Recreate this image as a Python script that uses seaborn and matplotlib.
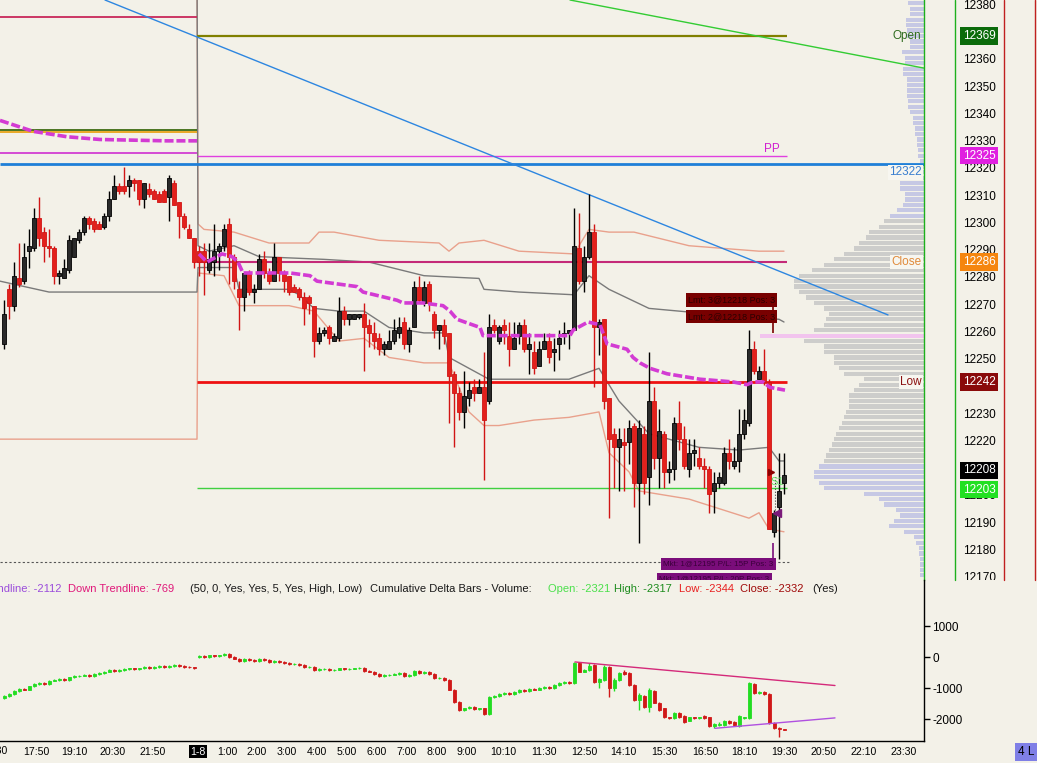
import numpy as np
import seaborn as sns
import matplotlib.pyplot as plt
from matplotlib.lines import Line2D
from matplotlib.transforms import Bbox, TransformedBbox, blended_transform_factory

# ---- 10-minute price bars (OHLC) ----
bar_open = [12256, 12276, 12270, 12280, 12279, 12290, 12291, 12302, 12297, 12292,
            12291, 12281, 12280, 12283, 12288, 12294, 12297, 12302, 12301, 12300,
            12299, 12303, 12309, 12314, 12314, 12314, 12316, 12316, 12309, 12313,
            12312, 12311, 12312, 12310, 12315, 12308, 12303, 12298, 12295, 12290,
            12290, 12283, 12286, 12290, 12292, 12300, 12288, 12276, 12273, 12282,
            12275, 12276, 12287, 12282, 12279, 12288, 12282, 12281, 12277, 12276,
            12273, 12273, 12270, 12257, 12260, 12262, 12257, 12258, 12268, 12265,
            12265, 12266, 12267, 12263, 12260, 12258, 12254, 12254, 12257, 12260,
            12264, 12256, 12262, 12277, 12271, 12278, 12267, 12261, 12263, 12260,
            12245, 12238, 12231, 12236, 12240, 12238, 12240, 12235, 12263, 12257,
            12263, 12259, 12254, 12259, 12263, 12254, 12253, 12248, 12254, 12257,
            12253, 12256, 12259, 12260, 12261, 12291, 12279, 12288, 12297, 12262,
            12265, 12236, 12223, 12218, 12220, 12220, 12226, 12205, 12223, 12207,
            12235, 12214, 12223, 12209, 12210, 12227, 12221, 12210, 12216, 12214,
            12211, 12210, 12202, 12205, 12205, 12216, 12211, 12213, 12223, 12227,
            12254, 12243, 12246, 12242, 12187, 12196, 12205]
bar_high = [12272, 12278, 12286, 12293, 12293, 12298, 12306, 12310, 12299, 12298,
            12292, 12283, 12287, 12296, 12295, 12298, 12303, 12303, 12302, 12301,
            12304, 12312, 12318, 12315, 12321, 12318, 12317, 12316, 12315, 12315,
            12313, 12312, 12313, 12318, 12316, 12308, 12304, 12300, 12295, 12292,
            12293, 12293, 12300, 12293, 12300, 12302, 12289, 12279, 12282, 12283,
            12278, 12289, 12290, 12284, 12293, 12288, 12283, 12281, 12278, 12277,
            12275, 12274, 12270, 12262, 12262, 12263, 12260, 12273, 12270, 12267,
            12267, 12267, 12271, 12265, 12264, 12260, 12257, 12261, 12265, 12266,
            12266, 12262, 12279, 12281, 12279, 12279, 12268, 12263, 12265, 12260,
            12246, 12240, 12246, 12242, 12243, 12243, 12253, 12267, 12265, 12263,
            12265, 12264, 12264, 12264, 12265, 12260, 12257, 12257, 12260, 12260,
            12258, 12261, 12264, 12261, 12306, 12304, 12292, 12311, 12300, 12265,
            12265, 12236, 12225, 12225, 12225, 12228, 12227, 12228, 12226, 12253,
            12240, 12232, 12224, 12213, 12229, 12235, 12226, 12221, 12221, 12218,
            12214, 12211, 12209, 12209, 12218, 12221, 12218, 12232, 12232, 12261,
            12257, 12248, 12254, 12243, 12195, 12216, 12216]
bar_low = [12254, 12265, 12268, 12277, 12278, 12284, 12290, 12292, 12286, 12288,
           12278, 12278, 12280, 12282, 12288, 12293, 12296, 12298, 12297, 12298,
           12298, 12301, 12309, 12311, 12311, 12310, 12312, 12307, 12306, 12310,
           12309, 12308, 12308, 12301, 12307, 12295, 12298, 12295, 12284, 12281,
           12274, 12282, 12281, 12283, 12290, 12278, 12276, 12261, 12268, 12274,
           12271, 12276, 12280, 12278, 12279, 12279, 12275, 12274, 12275, 12272,
           12263, 12267, 12251, 12256, 12259, 12256, 12257, 12257, 12263, 12263,
           12265, 12265, 12246, 12255, 12254, 12252, 12252, 12254, 12256, 12258,
           12254, 12253, 12262, 12271, 12270, 12268, 12258, 12254, 12256, 12227,
           12218, 12228, 12225, 12233, 12235, 12238, 12206, 12234, 12260, 12256,
           12256, 12248, 12254, 12256, 12253, 12245, 12245, 12248, 12254, 12249,
           12246, 12250, 12256, 12254, 12261, 12278, 12275, 12287, 12240, 12252,
           12232, 12192, 12203, 12202, 12202, 12212, 12196, 12183, 12201, 12197,
           12210, 12203, 12203, 12205, 12206, 12217, 12210, 12207, 12211, 12210,
           12203, 12194, 12194, 12203, 12204, 12210, 12210, 12209, 12221, 12226,
           12245, 12243, 12241, 12188, 12185, 12177, 12201]
bar_close = [12267, 12270, 12281, 12278, 12288, 12292, 12302, 12295, 12292, 12291,
             12281, 12282, 12284, 12294, 12295, 12297, 12302, 12300, 12298, 12298,
             12303, 12309, 12314, 12312, 12312, 12316, 12315, 12309, 12315, 12311,
             12309, 12308, 12308, 12317, 12307, 12303, 12299, 12295, 12286, 12286,
             12286, 12287, 12290, 12292, 12298, 12288, 12279, 12273, 12282, 12275,
             12276, 12287, 12282, 12279, 12288, 12282, 12279, 12275, 12275, 12273,
             12269, 12271, 12257, 12260, 12261, 12258, 12259, 12268, 12265, 12267,
             12267, 12267, 12262, 12260, 12257, 12254, 12256, 12257, 12261, 12262,
             12256, 12261, 12277, 12272, 12277, 12271, 12261, 12263, 12259, 12244,
             12238, 12231, 12237, 12239, 12238, 12240, 12228, 12262, 12261, 12262,
             12261, 12254, 12258, 12263, 12254, 12256, 12247, 12254, 12257, 12251,
             12254, 12258, 12260, 12261, 12292, 12279, 12288, 12297, 12262, 12264,
             12235, 12221, 12218, 12221, 12219, 12225, 12205, 12225, 12205, 12235,
             12214, 12224, 12209, 12210, 12227, 12221, 12211, 12216, 12217, 12211,
             12210, 12201, 12205, 12207, 12216, 12213, 12213, 12223, 12228, 12254,
             12246, 12246, 12242, 12188, 12194, 12202, 12208]

# ---- cumulative delta bars ----
delta_open = [-1310, -1250, -1180, -1090, -1020, -1050, -930, -860, -830, -860,
              -760, -730, -700, -730, -640, -600, -590, -570, -600, -540,
              -510, -470, -410, -440, -410, -380, -350, -380, -350, -310,
              -350, -310, -280, -310, -280, -250, -280, -310, -320, 10,
              40, 10, 70, 40, 70, 110, 10, -50, -120, -50,
              -90, -120, -50, -90, -150, -120, -150, -180, -220, -200,
              -250, -310, -300, -410, -380, -370, -410, -400, -350, -380,
              -370, -350, -340, -440, -470, -540, -600, -570, -560, -540,
              -510, -600, -570, -440, -510, -470, -540, -670, -660, -730,
              -1050, -1440, -1700, -1640, -1600, -1670, -1640, -1830, -1280, -1250,
              -1180, -1150, -1180, -1120, -1050, -1090, -1020, -1050, -990, -960,
              -990, -890, -830, -800, -830, -180, -470, -410, -250, -800,
              -730, -310, -990, -730, -470, -510, -890, -1380, -1250, -1600,
              -1090, -1470, -1640, -1930, -1960, -1800, -1890, -2050, -1930, -1960,
              -1890, -1930, -2220, -2180, -2180, -2050, -2090, -2220, -1960, -1960,
              -860, -1150, -1120, -1180, -2120, -2280, -2321]
delta_high = [-1230, -1160, -1070, -1000, -1000, -910, -840, -810, -810, -740,
              -710, -680, -680, -620, -580, -570, -550, -550, -520, -490,
              -450, -390, -390, -390, -360, -330, -330, -330, -290, -290,
              -290, -260, -260, -260, -230, -230, -260, -290, -300, 60,
              60, 90, 90, 90, 130, 130, 30, -30, -30, -30,
              -70, -30, -30, -70, -100, -100, -130, -160, -180, -180,
              -230, -280, -280, -360, -350, -350, -380, -330, -330, -350,
              -330, -320, -320, -420, -450, -520, -550, -540, -520, -490,
              -490, -550, -420, -420, -450, -450, -520, -640, -640, -710,
              -1030, -1420, -1620, -1580, -1580, -1620, -1620, -1260, -1230, -1160,
              -1130, -1130, -1100, -1030, -1030, -1000, -1000, -970, -940, -940,
              -870, -810, -780, -780, -160, -160, -390, -180, -230, -670,
              -250, -290, -670, -490, -410, -490, -870, -1150, -1230, -990,
              -1070, -1450, -1620, -1910, -1780, -1780, -1870, -1910, -1910, -1910,
              -1870, -1910, -2120, -2100, -2030, -2030, -2070, -1870, -1910, -810,
              -840, -1100, -1100, -1160, -2100, -2250, -2317]
delta_low = [-1330, -1270, -1200, -1110, -1070, -1070, -950, -880, -880, -880,
             -780, -750, -750, -750, -660, -620, -610, -620, -620, -560,
             -530, -490, -460, -460, -430, -400, -400, -400, -370, -370,
             -370, -330, -330, -330, -300, -300, -330, -340, -370, -10,
             -10, -10, 20, 20, 50, -10, -70, -140, -140, -110,
             -140, -140, -110, -170, -170, -170, -200, -240, -240, -270,
             -330, -330, -430, -430, -400, -430, -430, -420, -400, -400,
             -390, -370, -460, -490, -560, -620, -620, -590, -580, -560,
             -620, -620, -590, -530, -530, -560, -690, -690, -750, -1070,
             -1460, -1720, -1720, -1660, -1690, -1690, -1850, -1850, -1300, -1270,
             -1200, -1200, -1200, -1140, -1110, -1110, -1070, -1070, -1010, -1010,
             -1010, -910, -850, -850, -850, -490, -490, -430, -820, -990,
             -750, -1280, -1090, -750, -560, -910, -1400, -1700, -1620, -1760,
             -1490, -1720, -1950, -1980, -1980, -1950, -2110, -2070, -1980, -1980,
             -1980, -2240, -2280, -2200, -2200, -2140, -2200, -2240, -1980, -1980,
             -1170, -1170, -1200, -2140, -2300, -2570, -2344]
delta_close = [-1250, -1180, -1090, -1020, -1050, -930, -860, -830, -860, -760,
               -730, -700, -730, -640, -600, -590, -570, -600, -540, -510,
               -470, -410, -440, -410, -380, -350, -380, -350, -310, -350,
               -310, -280, -310, -280, -250, -280, -310, -320, -350, 40,
               10, 70, 40, 70, 110, 10, -50, -120, -50, -90,
               -120, -50, -90, -150, -120, -150, -180, -220, -200, -250,
               -310, -300, -410, -380, -370, -410, -400, -350, -380, -370,
               -350, -340, -440, -470, -540, -600, -570, -560, -540, -510,
               -600, -570, -440, -510, -470, -540, -670, -660, -730, -1050,
               -1440, -1700, -1640, -1600, -1670, -1640, -1830, -1280, -1250, -1180,
               -1150, -1180, -1120, -1050, -1090, -1020, -1050, -990, -960, -990,
               -890, -830, -800, -830, -180, -470, -410, -280, -800, -700,
               -310, -990, -730, -510, -540, -890, -1380, -1220, -1600, -1050,
               -1470, -1700, -1930, -1960, -1800, -1930, -2090, -1930, -1960, -1930,
               -1960, -2220, -2150, -2150, -2050, -2120, -2180, -1890, -1930, -830,
               -1150, -1120, -1180, -2120, -2280, -2310, -2332]

# ---- volume profile (2-point rows) ----
profile_price = [12171, 12173, 12175, 12177, 12179, 12181, 12183, 12185, 12187, 12189,
                 12191, 12193, 12195, 12197, 12199, 12201, 12203, 12205, 12207, 12209,
                 12211, 12213, 12215, 12217, 12219, 12221, 12223, 12225, 12227, 12229,
                 12231, 12233, 12235, 12237, 12239, 12241, 12243, 12245, 12247, 12249,
                 12251, 12253, 12255, 12257, 12259, 12261, 12263, 12265, 12267, 12269,
                 12271, 12273, 12275, 12277, 12279, 12281, 12283, 12285, 12287, 12289,
                 12291, 12293, 12295, 12297, 12299, 12301, 12303, 12305, 12307, 12309,
                 12311, 12313, 12315, 12317, 12319, 12321, 12323, 12325, 12327, 12329,
                 12331, 12333, 12335, 12337, 12339, 12341, 12343, 12345, 12347, 12349,
                 12351, 12353, 12355, 12357, 12359, 12361, 12363, 12365, 12367, 12369,
                 12371, 12373, 12375, 12377, 12379, 12381]
profile_volume = [4, 4, 4, 4, 5, 5, 8, 10, 20, 35,
                  30, 24, 28, 40, 45, 60, 100, 105, 110, 110,
                  105, 100, 98, 95, 92, 90, 88, 85, 82, 80,
                  78, 75, 75, 75, 70, 65, 60, 80, 85, 90,
                  90, 100, 100, 120, 164, 110, 100, 98, 95, 100,
                  110, 118, 125, 130, 130, 125, 112, 100, 90, 80,
                  70, 65, 58, 55, 45, 40, 34, 27, 21, 19,
                  19, 24, 24, 29, 29, 25, 4, 6, 6, 7,
                  7, 9, 9, 11, 11, 14, 16, 16, 17, 17,
                  17, 17, 21, 21, 19, 19, 22, 14, 14, 17,
                  17, 18, 18, 14, 14, 16]
poc_price = 12259
va_low, va_high = 12213, 12301

# ---- study lines (bar index, price) ----
upper_band_x = [38.6, 38.8, 40, 46, 53, 61, 63, 66, 75, 87, 89, 91, 96, 103, 114, 117, 121, 126, 137, 151, 155, 156]
upper_band_y = [12395, 12300, 12298, 12297, 12293, 12293, 12297, 12297, 12294, 12293, 12290, 12293, 12294,
                12290, 12289, 12298, 12297, 12297, 12292, 12290, 12290, 12290]
lower_band_x = [-0.8, 38.6, 38.8, 44, 47, 57, 62, 67, 72, 77, 84, 89, 93, 96, 99, 106, 113, 119, 121, 125,
                127, 137, 149, 151, 153, 156]
lower_band_y = [12221, 12221, 12282, 12281, 12270, 12270, 12268, 12257, 12258, 12251, 12249, 12249, 12231,
                12226, 12226, 12228, 12229, 12231, 12216, 12209, 12202, 12199, 12192, 12194, 12188, 12187]
upper_mid_x = [38.6, 38.8, 41, 46, 51, 64, 73, 84, 95, 96, 103, 114, 117, 121, 129, 147, 155, 156]
upper_mid_y = [12395, 12292, 12290, 12292, 12288, 12287, 12286, 12281, 12280, 12276, 12275, 12274, 12281,
               12276, 12269, 12266, 12265, 12264]
lower_mid_x = [-0.8, 9, 38.6, 38.8, 46, 47, 57, 59, 62, 67, 72, 77, 84, 88, 89, 94, 97, 113, 119, 123, 126,
               129, 139, 147, 153, 155, 156]
lower_mid_y = [12279, 12275, 12275, 12284, 12284, 12276, 12276, 12274, 12269, 12268, 12268, 12262, 12260,
               12260, 12251, 12246, 12243, 12243, 12247, 12235, 12229, 12223, 12218, 12217, 12218, 12213, 12213]
ma_prev_x = [-0.8, 5.8, 12.6, 19.2, 32.6, 38.6]
ma_prev_y = [12338, 12334, 12332, 12331, 12330.5, 12330.5]
ma_x = [39, 40.6, 42.6, 43.6, 45.6, 46.8, 47.8, 57.2, 61.2, 62.6, 70.6, 71.8, 78.6, 79.8, 83.8, 87.8, 89.2,
        90.6, 95.2, 95.8, 103.2, 113.2, 113.8, 116.8, 119.2, 119.8, 120.6, 124.6, 125.8, 127.2, 129.2,
        132.6, 139.2, 145.8, 148.6, 149.8, 151.8, 153.2, 156.2]
ma_y = [12289, 12286, 12288, 12289, 12288, 12286, 12282, 12282, 12281, 12279, 12277, 12275, 12272, 12271,
        12271, 12270, 12268, 12265, 12262, 12259, 12259, 12259, 12261, 12264, 12263, 12260, 12256, 12254,
        12251, 12249, 12247, 12245, 12243, 12242, 12241, 12242, 12242, 12240, 12239]

# trend lines
blue_trend_x, blue_trend_y = [20.2, 176.8], [12382.2, 12266.6]
green_trend_x, green_trend_y = [113.2, 184], [12382.2, 12357.2]
down_trend_x, down_trend_y = [114.2, 166.2], [-150, -910]
up_trend_x, up_trend_y = [142.2, 166.2], [-2290, -1955]

# levels
prev_levels = [12376, 12334.3, 12333.6, 12326]
prev_colors = ["#C8285A", "#3D6B12", "#E8A417", "#D23ED2"]
open_level, pp_level, close_level, low_level, s1_level = 12369, 12325, 12286, 12242, 12203
blue_level = 12322
last_fill = 12176

price_ticks = [12380, 12370, 12360, 12350, 12340, 12330, 12320, 12310, 12300, 12290, 12280,
               12270, 12260, 12250, 12240, 12230, 12220, 12210, 12200, 12190, 12180, 12170]
price_boxes = ["12369", "12325", "12286", "12242", "12208", "12203"]
price_box_y = [12369, 12325, 12286, 12242, 12209.5, 12202.5]
price_box_colors = ["#0B6B0B", "#E020E0", "#F5860F", "#8A0A0A", "#000000", "#22E022"]

time_tick_pos = [6.5, 14, 21.8, 29.7, 38.8, 44.6, 50.6, 56.6, 62.6, 68.6, 74.6, 80.6, 86.6, 92.6,
                 99.8, 108, 116, 123.8, 132, 140.2, 148, 156, 164, 172, 180]
time_tick_text = ["17:50", "19:10", "20:30", "21:50", "1-8", "1:00", "2:00", "3:00", "4:00", "5:00",
                  "6:00", "7:00", "8:00", "9:00", "10:10", "11:30", "12:50", "14:10", "15:30", "16:50",
                  "18:10", "19:30", "20:50", "22:10", "23:30"]
delta_ticks = [1000, 0, -1000, -2000]

BG = "#F3F1E8"
W, H = 1037, 763

sns.set_theme(style="white")
plt.rcParams["font.family"] = ["Liberation Sans", "DejaVu Sans"]
plt.rcParams["font.size"] = 8


def fx(px):
    return px / W


def fy(py):
    return 1 - py / H


def line(axis, xs, ys, color, lw, z=2):
    sns.lineplot(x=xs, y=ys, ax=axis, color=color, linewidth=lw, sort=False,
                 estimator=None, legend=False, zorder=z)


def candles(axis, o, h, l, c, up_col, dn_col, up_edge, dn_edge, width):
    o, h, l, c = map(np.asarray, (o, h, l, c))
    idx = np.arange(len(o))
    up = c >= o
    axis.vlines(idx, l, h, colors=np.where(up, up_edge, dn_edge), lw=1, zorder=4)
    body = np.maximum(np.abs(c - o), (h.max() - l.min()) * 0.0025)
    axis.bar(idx, body, bottom=np.minimum(o, c), width=width, color=np.where(up, up_col, dn_col),
             edgecolor=np.where(up, up_edge, dn_edge), linewidth=0.6, zorder=5)


fig = plt.figure(figsize=(W / 100, H / 100), dpi=100)
fig.patch.set_facecolor(BG)

main_rect = [0, fy(580), fx(924), 580 / H]
ymin, ymax = 12169.3, 12382.2
xmin, xmax = -0.8, 184

# volume profile behind the price pane
ax_vp = fig.add_axes(main_rect)
ax_vp.set_facecolor(BG)
vp_colors = ["#F2C4EE" if p == poc_price else ("#CDCDCB" if va_low <= p <= va_high else "#C6C8E4")
             for p in profile_price]
ax_vp.barh(profile_price, profile_volume, height=1.55, left=0, color=vp_colors, linewidth=0)
ax_vp.set_xlim(924, 0)
ax_vp.set_ylim(ymin, ymax)
ax_vp.axis("off")

ax = fig.add_axes(main_rect)
ax.set_facecolor("none")

# bands and averages
line(ax, upper_band_x, upper_band_y, "#E9A18C", 1)
line(ax, lower_band_x, lower_band_y, "#E9A18C", 1)
line(ax, upper_mid_x, upper_mid_y, "#7A7A7A", 1)
line(ax, lower_mid_x, lower_mid_y, "#7A7A7A", 1)

# levels
for lv, col in zip(prev_levels, prev_colors):
    ax.hlines(lv, xmin, 38.6, color=col, lw=1.3, zorder=2)
ax.hlines(open_level, 38.6, 156.6, color="#808000", lw=1.6, zorder=2)
ax.hlines(pp_level, 38.6, 156.6, color="#E040E0", lw=1, zorder=2)
ax.hlines(blue_level, xmin, xmax, color="#1E7FD8", lw=2, zorder=2)
ax.hlines(close_level, 38.6, 156.6, color="#C42A78", lw=1.5, zorder=2)
ax.hlines(low_level, 38.6, 156.6, color="#EE1111", lw=2, zorder=2)
ax.hlines(s1_level, 38.6, 156.6, color="#40D040", lw=1, zorder=2)
ax.hlines(last_fill, xmin, 157.2, color="#555555", lw=0.8, linestyles=(0, (2, 2)), zorder=2)

ax.plot(blue_trend_x, blue_trend_y, color="#2D86E0", lw=1, zorder=3)
ax.plot(green_trend_x, green_trend_y, color="#33CC33", lw=1, zorder=3)

candles(ax, bar_open, bar_high, bar_low, bar_close, "#2A2A2A", "#E3211C", "#000000", "#D01515", 0.7)

ax.plot(ma_prev_x, ma_prev_y, color="#D33BD3", lw=2.6, dashes=(2.5, 0.8), zorder=6)
ax.plot(ma_x, ma_y, color="#D33BD3", lw=2.6, dashes=(2.5, 0.8), zorder=6)

# order labels
ax.vlines(153.8, 12260, 12273, color="#7A0000", lw=1.2, zorder=7)
ax.text(136.8, 12272.1, "Lmt: 3@12218 Pos: 3", fontsize=6.5, color="#2A0000", va="center",
        bbox=dict(boxstyle="square,pad=0.25", fc="#780000", ec="none"), zorder=8, clip_on=True)
ax.text(136.8, 12266.0, "Lmt: 2@12218 Pos: 3", fontsize=6.5, color="#2A0000", va="center",
        bbox=dict(boxstyle="square,pad=0.25", fc="#780000", ec="none"), zorder=8, clip_on=True)
ax.vlines(153.8, 12173, 12183, color="#7A0D7A", lw=1.2, zorder=7)
ax.text(131.8, 12175.3, "Mkt: 1@12195 P/L: 15P Pos: 3", fontsize=5.8, color="#3A003A", va="center",
        bbox=dict(boxstyle="square,pad=0.3", fc="#7A0D7A", ec="none"), zorder=8, clip_on=True)
ax.text(131.0, 12169.6, "Mkt: 1@12195 P/L: 20P Pos: 3", fontsize=5.8, color="#3A003A", va="center",
        bbox=dict(boxstyle="square,pad=0.3", fc="#7A0D7A", ec="none"), zorder=8, clip_on=True)
ax.vlines(154.2, 12195, 12208, color="#444444", lw=0.8, linestyles=":", zorder=7)
ax.plot([153.4], [12209], marker=">", color="#8B0000", ms=5, zorder=9)
ax.plot([154.6], [12194], marker="<", color="#7A1A7A", ms=6, zorder=9)

# level captions
ax.text(183.4, open_level, "Open", ha="right", va="center", fontsize=8.5, color="#2E6B1E", zorder=8)
ax.text(155.2, 12327.5, "PP", ha="right", va="center", fontsize=8.5, color="#D020D0", zorder=8)
light = dict(boxstyle="square,pad=0.12", fc="#F7F6F0", ec="none")
ax.text(183.6, 12319.0, "12322", ha="right", va="center", fontsize=8.5, color="#3A7FD0", bbox=light, zorder=8)
ax.text(183.6, close_level, "Close", ha="right", va="center", fontsize=8.5, color="#E08A3A", bbox=light, zorder=8)
ax.text(183.6, low_level, "Low", ha="right", va="center", fontsize=8.5, color="#8B1010", bbox=light, zorder=8)
ax.text(154.6, 12205.3, "S1", ha="center", va="center", fontsize=8, color="#66DD66", zorder=8)

ax.set_xlim(xmin, xmax)
ax.set_ylim(ymin, ymax)
ax.set_xticks([])
ax.set_yticks([])
for s in ["left", "top", "bottom"]:
    ax.spines[s].set_visible(False)
ax.spines["right"].set_color("#1DB01D")
ax.spines["right"].set_linewidth(1)

# right price scale
trans = blended_transform_factory(fig.transFigure, ax.transData)
clip = TransformedBbox(Bbox([[fx(924), fy(580)], [1, 1]]), fig.transFigure)
for p in price_ticks:
    t = fig.text(fx(963), p, str(p), transform=trans, ha="left", va="center", fontsize=8.5, color="black")
    t.set_clip_box(clip)
    t.set_clip_on(True)
for s, p, col in zip(price_boxes, price_box_y, price_box_colors):
    fig.text(fx(963), p, s, transform=trans, ha="left", va="center", fontsize=8.5, color="white",
             bbox=dict(boxstyle="square,pad=0.22", fc=col, ec="none"), zorder=5)

for xpix, col in [(955, "#1DB01D"), (1004, "#C02020"), (1035, "#C02020")]:
    fig.add_artist(Line2D([fx(xpix)] * 2, [fy(0), fy(580)], color=col, lw=1, transform=fig.transFigure))

# cumulative delta pane
ax_d = fig.add_axes([0, fy(741), fx(924), (741 - 580) / H])
ax_d.set_facecolor("none")
candles(ax_d, delta_open, delta_high, delta_low, delta_close, "#22DD22", "#D01818", "#22DD22", "#D01818", 0.6)
ax_d.plot(down_trend_x, down_trend_y, color="#D42A7A", lw=1, zorder=6)
ax_d.plot(up_trend_x, up_trend_y, color="#B050E0", lw=1, zorder=6)
ax_d.set_xlim(xmin, xmax)
ax_d.set_ylim(-2700, 2494)
for s in ["left", "top"]:
    ax_d.spines[s].set_visible(False)
for s in ["right", "bottom"]:
    ax_d.spines[s].set_color("black")
    ax_d.spines[s].set_linewidth(1)
ax_d.yaxis.tick_right()
ax_d.set_yticks(delta_ticks)
ax_d.set_yticklabels([str(v) for v in delta_ticks])
ax_d.tick_params(axis="y", direction="out", length=4, width=1, pad=2, labelsize=8.5, colors="black")
ax_d.set_xticks(time_tick_pos)
ax_d.set_xticklabels(time_tick_text)
ax_d.tick_params(axis="x", direction="in", length=4, width=1, pad=4, labelsize=7.6, colors="black")
for lab in ax_d.get_xticklabels():
    if lab.get_text() == "1-8":
        lab.set_color("white")
        lab.set_bbox(dict(boxstyle="square,pad=0.15", fc="black", ec="none"))
# first time label, mostly beyond the left edge
fig.text(fx(-6), fy(751), "16:30", ha="center", va="center", fontsize=7.6, color="black")

# legend row of the delta study
legend_parts = [(61, "Up Trendline: -2112", "#9B4DDB", "right"),
                (68, "Down Trendline: -769", "#E0197A", "left"),
                (190, "(50, 0, Yes, Yes, 5, Yes, High, Low)", "#1A1A1A", "left"),
                (370, "Cumulative Delta Bars - Volume:", "#1A1A1A", "left"),
                (548, "Open: -2321", "#4CE04C", "left"),
                (614, "High: -2317", "#1E8C1E", "left"),
                (679, "Low: -2344", "#E82020", "left"),
                (740, "Close: -2332", "#A00A0A", "left"),
                (812, "(Yes)", "#1A1A1A", "left")]
for xpix, s, col, ha in legend_parts:
    fig.text(fx(xpix), fy(589), s, color=col, ha=ha, va="center", fontsize=8)

fig.text(fx(1026), fy(752), "4 L", ha="center", va="center", fontsize=8.5, color="black",
         bbox=dict(boxstyle="square,pad=0.25", fc="#7F7FE6", ec="none"))

fig.savefig("out.png", dpi=100, facecolor=BG)
